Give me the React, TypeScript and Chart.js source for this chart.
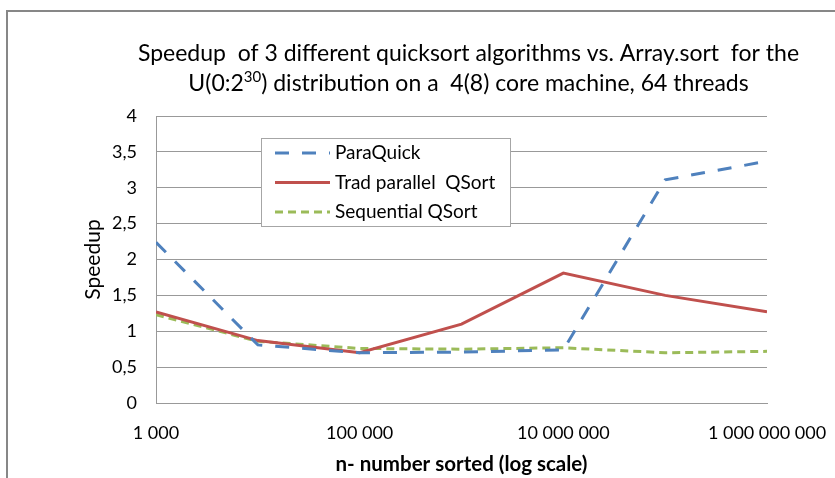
import { useEffect, useRef } from 'react';
import { Chart, registerables } from 'chart.js';

Chart.register(...registerables);

// ---- data ----
const sizes = [1e3, 1e4, 1e5, 1e6, 1e7, 1e8, 1e9];
const paraQuick = [2.24, 0.81, 0.7, 0.71, 0.74, 3.11, 3.37];
const tradParallel = [1.27, 0.87, 0.7, 1.1, 1.81, 1.5, 1.27];
const sequential = [1.23, 0.86, 0.76, 0.75, 0.77, 0.7, 0.72];
const seriesNames = ['ParaQuick', 'Trad parallel  QSort', 'Sequential QSort'];
const xTickValues = [1e3, 1e5, 1e7, 1e9];
const xTickLabels = ['1 000', '100 000', '10 000 000', '1 000 000 000'];
const titleLine1 = 'Speedup  of 3 different quicksort algorithms vs. Array.sort  for the';
const titleLine2 = ['U(0:2', '30', ') distribution on a  4(8) core machine, 64 threads'];
const xTitle = 'n- number sorted (log scale)';
const yTitle = 'Speedup';

const FONT = 'Lato, "Liberation Sans", sans-serif';
const colors = ['#4F81BD', '#C0504D', '#9BBB59'];
const dashes = [[14, 13], [], [8, 5]];

const decor = {
  id: 'decor',
  afterDatasetsDraw(chart: any) {
    const ctx = chart.ctx;
    const ca = chart.chartArea;
    ctx.save();
    // outer border (partially visible)
    ctx.strokeStyle = '#878787';
    ctx.lineWidth = 2;
    ctx.beginPath();
    ctx.moveTo(7, 478);
    ctx.lineTo(7, 11);
    ctx.lineTo(835, 11);
    ctx.stroke();

    // title
    const cx = (ca.left + ca.right) / 2 + 7;
    ctx.fillStyle = '#000';
    ctx.textBaseline = 'middle';
    ctx.font = `23px ${FONT}`;
    ctx.textAlign = 'center';
    ctx.fillText(titleLine1, cx, 54);
    ctx.textAlign = 'left';
    const w0 = ctx.measureText(titleLine2[0]).width;
    const w2 = ctx.measureText(titleLine2[2]).width;
    ctx.font = `15px ${FONT}`;
    const w1 = ctx.measureText(titleLine2[1]).width;
    let x = cx - (w0 + w1 + w2) / 2;
    ctx.font = `23px ${FONT}`;
    ctx.fillText(titleLine2[0], x, 84);
    x += w0;
    ctx.font = `15px ${FONT}`;
    ctx.fillText(titleLine2[1], x, 77);
    x += w1;
    ctx.font = `23px ${FONT}`;
    ctx.fillText(titleLine2[2], x, 84);

    // legend
    ctx.fillStyle = '#fff';
    ctx.strokeStyle = '#a6a6a6';
    ctx.lineWidth = 1;
    ctx.fillRect(261.5, 138.5, 249, 88);
    ctx.strokeRect(261.5, 138.5, 249, 88);
    chart.data.datasets.forEach((ds: any, i: number) => {
      const y = 153 + i * 29.5;
      ctx.strokeStyle = ds.borderColor;
      ctx.lineWidth = 3;
      ctx.setLineDash(ds.borderDash || []);
      ctx.beginPath();
      ctx.moveTo(275, y);
      ctx.lineTo(330, y);
      ctx.stroke();
      ctx.setLineDash([]);
      ctx.fillStyle = '#000';
      ctx.font = `19px ${FONT}`;
      ctx.textAlign = 'left';
      ctx.textBaseline = 'middle';
      ctx.fillText(ds.label, 335, y);
    });
    ctx.restore();
  },
};

export default function App() {
  const ref = useRef<HTMLCanvasElement>(null);
  useEffect(() => {
    document.body.style.margin = '0';
    const series = [paraQuick, tradParallel, sequential];
    const chart = new Chart(ref.current!, {
      type: 'line',
      data: {
        datasets: series.map((vals, i) => ({
          label: seriesNames[i],
          data: sizes.map((s, j) => ({ x: s, y: vals[j] })),
          borderColor: colors[i],
          backgroundColor: colors[i],
          borderWidth: 3,
          borderDash: dashes[i],
          pointRadius: 0,
          tension: 0,
          fill: false,
        })),
      },
      options: {
        responsive: false,
        animation: false,
        devicePixelRatio: 1,
        layout: { padding: { top: 116, right: 68, bottom: 0, left: 0 } },
        plugins: { legend: { display: false }, title: { display: false }, tooltip: { enabled: false } },
        scales: {
          x: {
            type: 'logarithmic',
            min: 1e3,
            max: 1e9,
            afterBuildTicks: (scale: any) => {
              scale.ticks = xTickValues.map((v) => ({ value: v }));
            },
            afterFit: (scale: any) => {
              scale.height = 75;
              scale.paddingRight = 0;
              scale.paddingLeft = 0;
            },
            ticks: {
              autoSkip: false,
              maxRotation: 0,
              padding: 19,
              color: '#000',
              font: { family: FONT, size: 18 },
              callback: (v: any) => xTickLabels[xTickValues.indexOf(Number(v))] ?? '',
            },
            grid: { display: false, drawTicks: false, tickLength: 0 },
            border: { display: true, color: '#999', width: 1 },
            title: {
              display: true,
              text: xTitle,
              color: '#000',
              font: { family: FONT, size: 20.5, weight: 'bold' },
              padding: { top: 0, bottom: 1 },
            },
          },
          y: {
            min: 0,
            max: 4,
            afterFit: (scale: any) => {
              scale.width = 156;
            },
            ticks: {
              stepSize: 0.5,
              padding: 19,
              color: '#000',
              font: { family: FONT, size: 18 },
              callback: (v: any) => String(v).replace('.', ','),
            },
            grid: { color: '#999', lineWidth: 1, drawTicks: false, tickLength: 0 },
            border: { display: true, color: '#999', width: 1 },
            title: {
              display: true,
              text: yTitle,
              color: '#000',
              font: { family: FONT, size: 21 },
              padding: { top: 81, bottom: 0 },
            },
          },
        },
      },
      plugins: [decor],
    } as any);
    return () => chart.destroy();
  }, []);
  return <canvas ref={ref} width={835} height={478} style={{ display: 'block' }} />;
}
